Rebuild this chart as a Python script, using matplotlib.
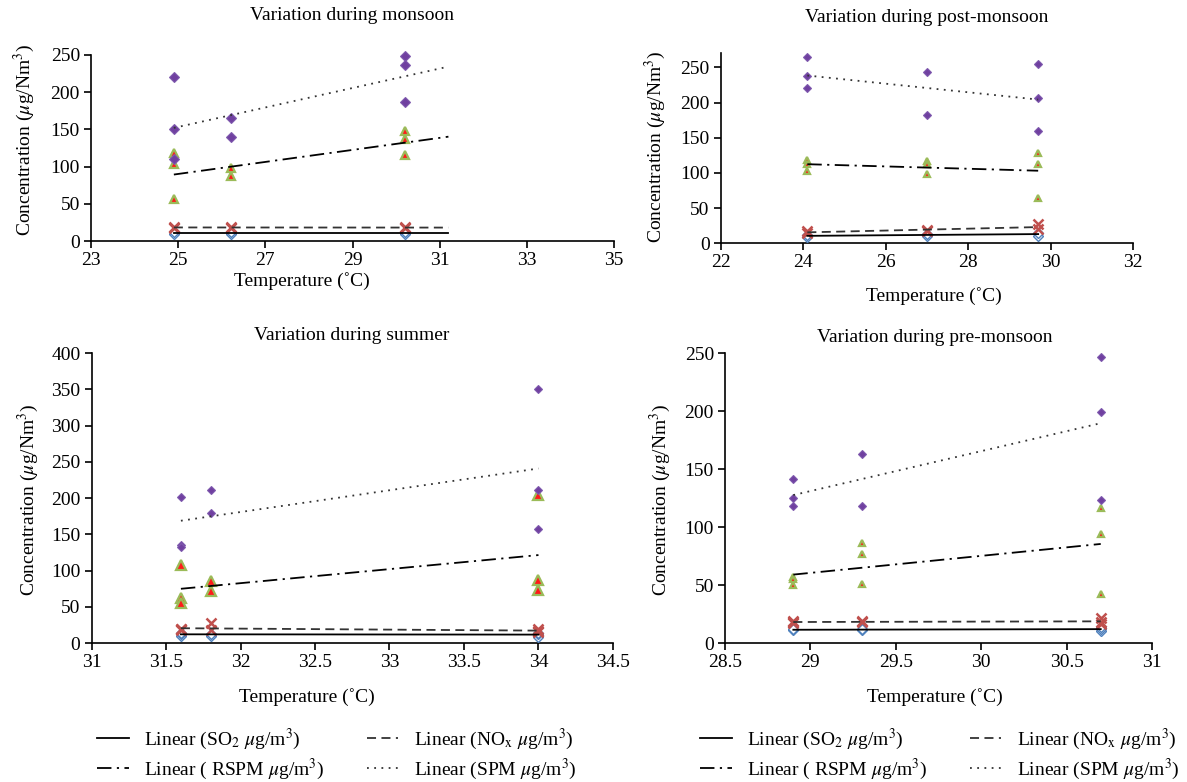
import matplotlib.pyplot as plt
import numpy as np
from matplotlib.lines import Line2D
from matplotlib.ticker import FuncFormatter

plt.rcParams['font.family'] = ['Liberation Serif', 'DejaVu Serif']
plt.rcParams['mathtext.fontset'] = 'stix'

# data: one list of readings per temperature
mon_temp = [24.9, 26.2, 30.2]
mon_so2 = [[10, 12], [10, 12], [10, 12]]
mon_nox = [[19, 17], [19, 18], [19, 17]]
mon_rspm = [[118, 104, 57], [98, 87], [148, 137, 115]]
mon_spm = [[221, 150, 110], [165, 140], [249, 236, 187]]

post_temp = [24.1, 27.0, 29.7]
post_so2 = [[9, 12], [11, 13], [11, 15]]
post_nox = [[17, 15], [19, 18], [27, 20]]
post_rspm = [[118, 113, 103], [117, 113, 99], [128, 113, 65]]
post_spm = [[265, 237, 221], [243, 182], [255, 207, 159]]

sum_temp = [31.6, 31.8, 34.0]
sum_so2 = [[10, 13, 14], [10, 13], [9, 12, 14]]
sum_nox = [[20, 19, 18], [27, 18], [20, 16, 15]]
sum_rspm = [[107, 62, 55], [86, 72], [204, 87, 73]]
sum_spm = [[202, 135, 132], [211, 179], [351, 211, 157]]

pre_temp = [28.9, 29.3, 30.7]
pre_so2 = [[11, 12], [11, 12], [10, 12, 14]]
pre_nox = [[19, 17, 18], [19, 18], [22, 18, 16]]
pre_rspm = [[57, 55, 50], [86, 77, 51], [116, 94, 42]]
pre_spm = [[141, 125, 118], [163, 118], [247, 199, 123]]

titles = ['Variation during monsoon', 'Variation during post-monsoon',
          'Variation during summer', 'Variation during pre-monsoon']
legend_labels = [r'Linear (SO$_2$ $\mu$g/m$^3$)', r'Linear ( RSPM $\mu$g/m$^3$)',
                 r'Linear (NO$_\mathrm{x}$ $\mu$g/m$^3$)', r'Linear (SPM $\mu$g/m$^3$)']


def flat(temps, vals):
    x, y = [], []
    for t, v in zip(temps, vals):
        x += [t] * len(v)
        y += v
    return np.array(x), np.array(y, dtype=float)


def fmt(v, pos):
    return '{:g}'.format(v)


fig = plt.figure(figsize=(11.87, 7.82), dpi=100)

panels = [
    dict(pos=[0.0767, 0.6918, 0.4406, 0.2379], temp=mon_temp,
         data=[mon_so2, mon_nox, mon_rspm, mon_spm], xlim=(23, 35), xstep=2,
         ylim=(0, 250), ms=(5, 7, 6, 5.2), fwd=1.0,
         title=(352, 15), xl=(302, 281), yl=(24, 140)),
    dict(pos=[0.6072, 0.6889, 0.3473, 0.2430], temp=post_temp,
         data=[post_so2, post_nox, post_rspm, post_spm], xlim=(22, 32), xstep=2,
         ylim=(0, 270), ms=(4.6, 6.5, 5, 3.8), fwd=0.0,
         title=(927, 17), xl=(934, 296), yl=(655, 147)),
    dict(pos=[0.0771, 0.1777, 0.4393, 0.3708], temp=sum_temp,
         data=[sum_so2, sum_nox, sum_rspm, sum_spm], xlim=(31, 34.5), xstep=0.5,
         ylim=(0, 400), ms=(5, 7, 7, 3.6), fwd=0.0,
         title=(352, 335), xl=(307, 697), yl=(28, 500)),
    dict(pos=[0.6108, 0.1777, 0.3597, 0.3708], temp=pre_temp,
         data=[pre_so2, pre_nox, pre_rspm, pre_spm], xlim=(28.5, 31), xstep=0.5,
         ylim=(0, 250), ms=(5, 6.5, 5, 4.4), fwd=0.0,
         title=(935, 337), xl=(935, 697), yl=(660, 500)),
]

trend_styles = [dict(color='black', linestyle='-', lw=1.3),
                dict(color='#333333', linestyle=(0, (5, 3)), lw=1.3),
                dict(color='black', linestyle=(0, (8, 3, 1.2, 3)), lw=1.3),
                dict(color='#333333', linestyle=(0, (1, 3)), lw=1.3)]

W, H = 1187.0, 782.0
for p, title in zip(panels, titles):
    ax = fig.add_axes(p['pos'])
    so2, nox, rspm, spm = p['data']
    ms_so2, ms_nox, ms_rspm, ms_spm = p['ms']

    x, y = flat(p['temp'], so2)
    ax.plot(x, y, 'D', ms=ms_so2, mfc='white', mec='#4F81BD', mew=1.0, zorder=3, clip_on=False)
    x, y = flat(p['temp'], nox)
    ax.plot(x, y, 'x', ms=ms_nox, mec='#C0504D', mew=1.8, zorder=3, clip_on=False)
    x, y = flat(p['temp'], rspm)
    ax.plot(x, y, '^', ms=ms_rspm, mfc='#FF1A1A', mec='#9BBB59', mew=1.6, zorder=3, clip_on=False)
    x, y = flat(p['temp'], spm)
    ax.plot(x, y, 'D', ms=ms_spm, mfc='#7040A0', mec='#7F5AAE', mew=0.8, zorder=4, clip_on=False)

    # linear trend lines
    for vals, st in zip([so2, nox, rspm, spm], trend_styles):
        x, y = flat(p['temp'], vals)
        k, b = np.polyfit(x, y, 1)
        xs = np.array([x.min(), x.max() + p['fwd']])
        ax.plot(xs, k * xs + b, zorder=5, **st)

    ax.set_xlim(*p['xlim'])
    ax.set_ylim(*p['ylim'])
    ax.set_xticks(np.arange(p['xlim'][0], p['xlim'][1] + 0.01, p['xstep']))
    ax.set_yticks(np.arange(0, p['ylim'][1] + 1, 50))
    ax.xaxis.set_major_formatter(FuncFormatter(fmt))
    ax.spines['top'].set_visible(False)
    ax.spines['right'].set_visible(False)
    ax.spines['left'].set_linewidth(1.2)
    ax.spines['bottom'].set_linewidth(1.2)
    ax.tick_params(direction='out', length=5, width=1.2, labelsize=14, pad=3)

    fig.text(p['title'][0] / W, 1 - p['title'][1] / H, title, ha='center', va='center', fontsize=14)
    fig.text(p['xl'][0] / W, 1 - p['xl'][1] / H, 'Temperature (\u02daC)', ha='center', va='center', fontsize=14)
    fig.text(p['yl'][0] / W, 1 - p['yl'][1] / H, r'Concentration ($\mu$g/Nm$^3$)',
             ha='center', va='center', rotation=90, fontsize=14)

handles = [Line2D([], [], **st) for st in trend_styles]
handles = [handles[0], handles[2], handles[1], handles[3]]
for cx in [337, 940]:
    fig.legend(handles, legend_labels, ncol=2, loc='center', bbox_to_anchor=(cx / W, 1 - 754 / H),
               frameon=False, fontsize=14, handlelength=1.6, columnspacing=2.2,
               labelspacing=0.25, handletextpad=0.8)

fig.savefig('out.png', dpi=100)
